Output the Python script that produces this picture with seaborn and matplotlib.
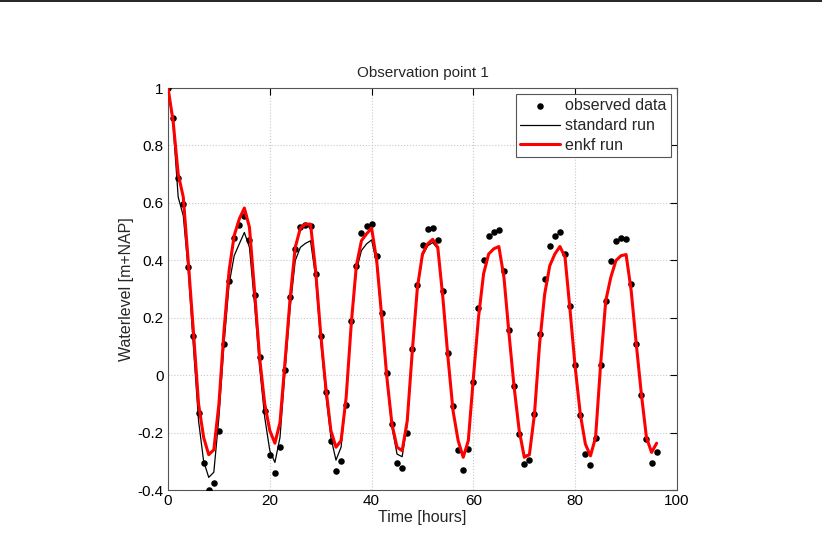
import numpy as np
import pandas as pd
import seaborn as sns
import matplotlib.pyplot as plt
from matplotlib.lines import Line2D

# hourly time axis
hours = list(range(97))

observed = [1.00, 0.896, 0.687, 0.596, 0.378, 0.135, -0.132, -0.306, -0.399, -0.375,
            -0.196, 0.110, 0.328, 0.479, 0.523, 0.554, 0.472, 0.280, 0.064, -0.125,
            -0.278, -0.340, -0.250, 0.017, 0.272, 0.440, 0.517, 0.524, 0.520, 0.351,
            0.135, -0.060, -0.231, -0.333, -0.298, -0.104, 0.187, 0.381, 0.495, 0.520,
            0.528, 0.415, 0.218, 0.009, -0.171, -0.305, -0.325, -0.200, 0.091, 0.313,
            0.452, 0.508, 0.511, 0.472, 0.294, 0.078, -0.107, -0.260, -0.329, -0.258,
            -0.023, 0.234, 0.400, 0.485, 0.497, 0.507, 0.364, 0.157, -0.037, -0.204,
            -0.311, -0.296, -0.137, 0.143, 0.334, 0.450, 0.486, 0.500, 0.423, 0.241,
            0.035, -0.139, -0.274, -0.313, -0.219, 0.035, 0.258, 0.399, 0.466, 0.479,
            0.473, 0.316, 0.107, -0.070, -0.224, -0.305, -0.266]

standard_run = [1.00, 0.870, 0.620, 0.555, 0.360, 0.097, -0.159, -0.300, -0.356, -0.338,
                -0.147, 0.108, 0.317, 0.416, 0.457, 0.497, 0.445, 0.248, 0.027, -0.147,
                -0.263, -0.304, -0.217, 0.016, 0.236, 0.399, 0.445, 0.459, 0.468, 0.341,
                0.120, -0.066, -0.217, -0.296, -0.251, -0.077, 0.178, 0.364, 0.434, 0.457,
                0.471, 0.388, 0.190, -0.019, -0.182, -0.275, -0.284, -0.171, 0.085, 0.300,
                0.416, 0.450, 0.462, 0.440, 0.268, 0.062, -0.124, -0.228, -0.284, -0.228,
                -0.008, 0.201, 0.353, 0.422, 0.440, 0.448, 0.341, 0.143, -0.042, -0.193,
                -0.280, -0.277, -0.135, 0.108, 0.282, 0.381, 0.422, 0.448, 0.411, 0.224,
                0.027, -0.135, -0.240, -0.281, -0.217, 0.039, 0.259, 0.341, 0.399, 0.416,
                0.420, 0.294, 0.108, -0.066, -0.217, -0.269, -0.237]

enkf_run = [1.00, 0.885, 0.700, 0.620, 0.390, 0.150, -0.100, -0.217, -0.277, -0.260,
            -0.100, 0.155, 0.364, 0.486, 0.544, 0.582, 0.515, 0.294, 0.060, -0.100,
            -0.193, -0.237, -0.165, 0.050, 0.270, 0.445, 0.512, 0.526, 0.526, 0.364,
            0.143, -0.042, -0.193, -0.251, -0.228, -0.077, 0.178, 0.381, 0.468, 0.492,
            0.512, 0.399, 0.201, -0.008, -0.171, -0.251, -0.263, -0.159, 0.085, 0.306,
            0.422, 0.457, 0.473, 0.445, 0.270, 0.062, -0.124, -0.228, -0.286, -0.228,
            -0.008, 0.201, 0.353, 0.422, 0.440, 0.448, 0.341, 0.143, -0.042, -0.193,
            -0.286, -0.277, -0.135, 0.108, 0.282, 0.381, 0.422, 0.448, 0.411, 0.224,
            0.027, -0.135, -0.240, -0.281, -0.217, 0.039, 0.259, 0.341, 0.399, 0.416,
            0.420, 0.294, 0.108, -0.066, -0.217, -0.269, -0.237]

df = pd.DataFrame({'time': hours, 'observed': observed,
                   'standard': standard_run, 'enkf': enkf_run})

sns.set_style("white")
plt.rcParams['font.family'] = ['Liberation Sans', 'DejaVu Sans']

fig = plt.figure(figsize=(8.22, 5.45), dpi=100)
ax = fig.add_axes([0.2044, 0.1009, 0.6192, 0.7376])

sns.scatterplot(data=df, x='time', y='observed', ax=ax, color='black', s=22,
                edgecolor='black', linewidth=0, label='observed data', zorder=3)
sns.lineplot(data=df, x='time', y='standard', ax=ax, color='black', linewidth=0.9,
             label='standard run', zorder=2)
sns.lineplot(data=df, x='time', y='enkf', ax=ax, color='#ff0000', linewidth=2.2,
             label='enkf run', zorder=4)

ax.set_xlim(0, 100)
ax.set_ylim(-0.4, 1)
ax.set_xticks([0, 20, 40, 60, 80, 100])
ax.set_yticks([-0.4, -0.2, 0, 0.2, 0.4, 0.6, 0.8, 1])
ax.set_yticklabels(['-0.4', '-0.2', '0', '0.2', '0.4', '0.6', '0.8', '1'])
ax.grid(True, linestyle=':', color='#c8c8c8', linewidth=0.8)
ax.tick_params(direction='in', length=5, width=0.8, top=True, right=True,
               labelsize=11, colors='black', pad=3)
for sp in ax.spines.values():
    sp.set_visible(True)
    sp.set_color('#555555')
    sp.set_linewidth(0.8)

ax.set_title('Observation point 1', fontsize=11, pad=8)
ax.set_xlabel('Time [hours]', fontsize=11.5, labelpad=1)
ax.set_ylabel('Waterlevel [m+NAP]', fontsize=11.5, labelpad=3)

leg = ax.legend(loc='upper right', fontsize=11.5, frameon=True, fancybox=False,
                edgecolor='#555555', framealpha=1, borderpad=0.25, labelspacing=0.3,
                handlelength=2.5, handletextpad=0.35, borderaxespad=0.4)
leg.get_frame().set_linewidth(0.8)

# thin rule along the top of the page
fig.add_artist(Line2D([0, 1], [0.998, 0.998], transform=fig.transFigure,
                      color='black', linewidth=1.2))

fig.savefig('out.png', dpi=100)
